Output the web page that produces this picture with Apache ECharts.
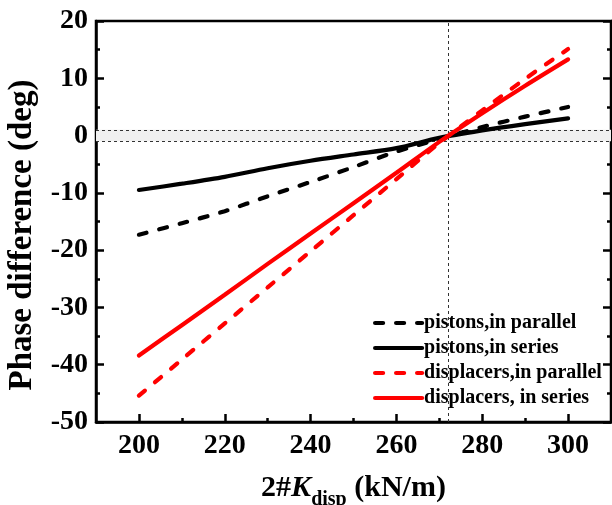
<!DOCTYPE html>
<html>
<head>
<meta charset="utf-8">
<script src="https://cdn.jsdelivr.net/npm/echarts@6/dist/echarts.min.js"></script>
<style>
  html, body { margin: 0; padding: 0; background: #fff; }
  #chart { width: 612px; height: 505px; }
</style>
</head>
<body>
<div id="chart"></div>
<script>
// Stiffness of displacer spring 2# (kN/m)
const kDisp = [200, 210, 220, 230, 240, 250, 260, 270, 280, 290, 300];

// Phase difference (deg) for each configuration
const pistonsParallel    = [-17.3, -15.3, -13.2, -10.6, -8.1, -5.5, -2.8, -0.6, 1.5, 3.3, 5.0];
const pistonsSeries      = [-9.5, -8.4, -7.2, -5.7, -4.4, -3.3, -2.2, -0.4, 0.9, 2.0, 3.0];
const displacersParallel = [-45.4, -39.1, -32.8, -26.5, -20.2, -13.9, -7.6, -1.3, 4.4, 9.9, 15.1];
const displacersSeries   = [-38.4, -33.1, -27.8, -22.4, -17.1, -11.8, -6.5, -1.1, 3.9, 8.7, 13.3];

const seriesNames = ['pistons,in parallel', 'pistons,in series', 'displacers,in parallel', 'displacers, in series'];

// Axis ticks
const xMajorTicks = [200, 220, 240, 260, 280, 300];
const xMinorTicks = [210, 230, 250, 270, 290];

// Reference lines
const crossK = 272;
const band = [-1, 1];

const FONT = "'Liberation Serif', 'Times New Roman', serif";

function pairs(ys) { return kDisp.map((k, i) => [k, ys[i]]); }

const chart = echarts.init(document.getElementById('chart'), null, { renderer: 'canvas' });

const lineW = 4.2;
const dash = [8, 13];

function mkSeries(name, ys, color, dashed, extra) {
  return Object.assign({
    name: name,
    type: 'line',
    data: pairs(ys),
    symbol: 'none',
    smooth: 0.3,
    lineStyle: { color: color, width: lineW, type: dashed ? dash : 'solid', cap: 'round' },
    itemStyle: { color: color },
    z: 5
  }, extra || {});
}

const axisLineStyle = { color: '#000', width: 2.5 };

const option = {
  animation: false,
  backgroundColor: '#fff',
  grid: {
    left: 96, right: 1, top: 21, bottom: 83,
    outerBoundsMode: 'none', containLabel: false,
    show: true, borderColor: '#000', borderWidth: 2.5, backgroundColor: 'transparent'
  },
  legend: {
    orient: 'vertical',
    left: 368, top: 308,
    itemWidth: 47, itemHeight: 14, itemGap: 5,
    data: seriesNames,
    itemStyle: { opacity: 0 },
    lineStyle: { width: 4.2, cap: 'round' },
    textStyle: { fontFamily: FONT, fontWeight: 'bold', fontSize: 20, color: '#000', lineHeight: 20, padding: [0, 0, 0, -3] }
  },
  xAxis: [
    {
      type: 'value', min: 190, max: 310, position: 'bottom',
      name: '{t|2#}{k|K}{s|disp}{t| (kN/m)}',
      nameLocation: 'middle', nameGap: 47,
      nameTextStyle: {
        rich: {
          t: { fontFamily: FONT, fontWeight: 'bold', fontSize: 30, color: '#000', verticalAlign: 'bottom', lineHeight: 34 },
          k: { fontFamily: FONT, fontWeight: 'bold', fontStyle: 'italic', fontSize: 30, color: '#000', verticalAlign: 'bottom', lineHeight: 34 },
          s: { fontFamily: FONT, fontWeight: 'bold', fontSize: 20, color: '#000', verticalAlign: 'bottom', lineHeight: 20, padding: [0, 0, -7, 0] }
        }
      },
      axisLine: { show: true, onZero: false, lineStyle: axisLineStyle },
      axisTick: { show: true, inside: true, length: 8, customValues: xMajorTicks, lineStyle: axisLineStyle },
      axisLabel: { show: true, customValues: xMajorTicks, margin: 10, fontFamily: FONT, fontWeight: 'bold', fontSize: 28, color: '#000' },
      splitLine: { show: false }
    },
    {
      type: 'value', min: 190, max: 310, position: 'bottom', offset: 0,
      axisLine: { show: false, onZero: false },
      axisTick: { show: true, inside: true, length: 4, customValues: xMinorTicks, lineStyle: axisLineStyle },
      axisLabel: { show: false },
      splitLine: { show: false }
    }
  ],
  yAxis: [
    {
      type: 'value', min: -50, max: 20, interval: 10, position: 'left',
      name: 'Phase difference (deg)',
      nameLocation: 'middle', nameGap: 57,
      nameTextStyle: { fontFamily: FONT, fontWeight: 'bold', fontSize: 33, color: '#000', padding: [0, 27, 0, 0] },
      axisLine: { show: true, onZero: false, lineStyle: axisLineStyle },
      axisTick: { show: true, inside: true, length: 8, lineStyle: axisLineStyle },
      minorTick: { show: true, splitNumber: 2, length: 4, lineStyle: axisLineStyle },
      axisLabel: { margin: 8, fontFamily: FONT, fontWeight: 'bold', fontSize: 28, color: '#000' },
      splitLine: { show: false }
    },
    {
      type: 'value', min: -50, max: 20, interval: 10, position: 'right',
      axisLine: { show: true, onZero: false, lineStyle: axisLineStyle },
      axisTick: { show: true, inside: true, length: 8, lineStyle: axisLineStyle },
      minorTick: { show: true, splitNumber: 2, length: 4, lineStyle: axisLineStyle },
      axisLabel: { show: false },
      splitLine: { show: false }
    }
  ],
  series: [
    mkSeries(seriesNames[0], pistonsParallel, '#000', true, {
      markArea: {
        silent: true,
        itemStyle: { color: '#f0f0f0' },
        data: [[{ yAxis: band[0] }, { yAxis: band[1] }]]
      },
      markLine: {
        silent: true, symbol: 'none', label: { show: false },
        lineStyle: { color: '#333', width: 1, type: [3, 3] },
        data: [{ xAxis: crossK }, { yAxis: band[0] }, { yAxis: band[1] }]
      }
    }),
    mkSeries(seriesNames[1], pistonsSeries, '#000', false),
    mkSeries(seriesNames[2], displacersParallel, '#ff0000', true),
    mkSeries(seriesNames[3], displacersSeries, '#ff0000', false)
  ]
};

chart.setOption(option);
</script>
</body>
</html>
